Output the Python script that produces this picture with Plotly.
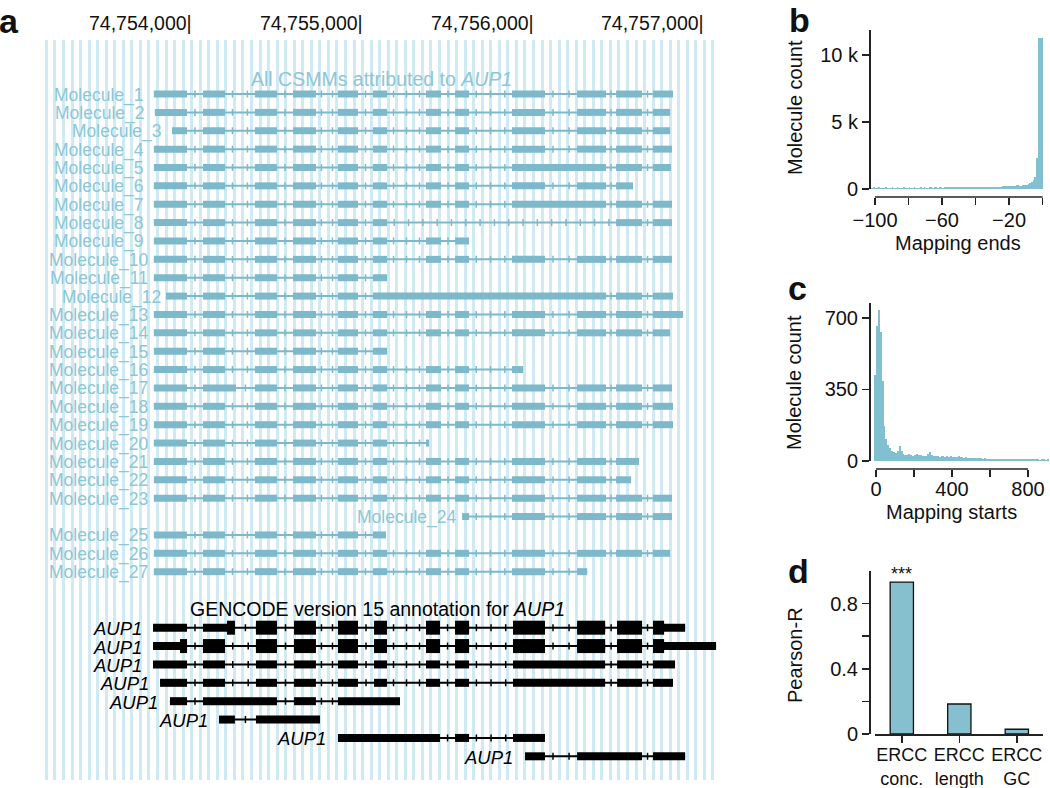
import numpy as np
import plotly.graph_objects as go

W, H = 1050, 788
FONT = "Liberation Sans, Arial, Helvetica, sans-serif"

# ---------------- Panel a data ----------------
coord_ticks = [74754000, 74755000, 74756000, 74757000]

exon_starts = [74753779, 74754066, 74754370, 74754593, 74754856, 74755061,
               74755371, 74755541, 74755874, 74756255, 74756483, 74756699]
exon_ends = [74753973, 74754195, 74754499, 74754727, 74754973, 74755143,
             74755459, 74755623, 74756067, 74756424, 74756635, 74756816]

ALL12 = [1, 2, 3, 4, 5, 6, 7, 8, 9, 10, 11, 12]
molecule_exons = [
    ALL12, ALL12, ALL12, ALL12,
    [1, 2, 3, 4, 5, 6, 7, 8, (9, 10), 11, 12],
    [1, 2, 3, 4, 5, 6, 7, 8, 9, 10, 11],
    [1, 2, 3, 4, 5, 6, 7, 8, (9, 10), 11, 12],
    [1, 2, 3, 4, 5, 6, 11, 12],
    [1, 2, 3, 4, 5, 6, 7, 8],
    ALL12,
    [1, 2, 3, 4, 5, 6],
    [1, 2, 3, 4, 5, (6, 10), 11, 12],
    ALL12, ALL12,
    [1, 2, 3, 4, 5, 6],
    [1, 2, 3, 4, 5, 6, 7, 8, 9],
    ALL12, ALL12, ALL12,
    [1, 2, 3, 4, 5, 6, 7],
    [1, 2, 3, 4, 5, 6, 7, 8, 9, 10, 11],
    [1, 2, 3, 4, 5, 6, 7, 8, 9, 10, 11],
    ALL12,
    [8, 9, 10, 11, 12],
    [1, 2, 3, 4, 5, 6],
    ALL12,
    [1, 2, 3, 4, 5, 6, 7, 8, 9, 10],
]
molecule_start = [74753779, 74753785, 74753885, 74753779, 74753779, 74753779,
                  74753779, 74753779, 74753779, 74753779, 74753779, 74753850,
                  74753779, 74753779, 74753779, 74753779, 74753779, 74753779,
                  74753779, 74753779, 74753779, 74753779, 74753779, 74755582,
                  74753779, 74753779, 74753779]
molecule_end = [74756816, 74756799, 74756799, 74756810, 74756804, 74756582,
                74756810, 74756810, 74755623, 74756810, 74755143, 74756816,
                74756875, 74756799, 74755143, 74755939, 74756810, 74756816,
                74756816, 74755389, 74756617, 74756571, 74756810, 74756810,
                74755137, 74756799, 74756314]
molecule_exon_end_override = {17: {2: 74754259}}

gencode_exons = [
    [(74753774, 74753973), (74754066, 74754253), (74754376, 74754499), (74754599, 74754727),
     (74754856, 74754973), (74755067, 74755143), (74755371, 74755453), (74755541, 74755623),
     (74755880, 74756067), (74756255, 74756419), (74756489, 74756635), (74756699, 74756887)],
    [(74753774, 74753973), (74754066, 74754195), (74754376, 74754499), (74754599, 74754727),
     (74754856, 74754973), (74755067, 74755143), (74755371, 74755453), (74755541, 74755623),
     (74755880, 74756067), (74756255, 74756419), (74756489, 74756635), (74756699, 74757068)],
    [(74753774, 74753973), (74754066, 74754195), (74754376, 74754499), (74754599, 74754727),
     (74754856, 74754973), (74755067, 74755143), (74755371, 74755453), (74755541, 74755623),
     (74755880, 74756419), (74756489, 74756635), (74756699, 74756828)],
    [(74753815, 74753973), (74754066, 74754195), (74754376, 74754499), (74754599, 74754727),
     (74754856, 74754973), (74755067, 74755143), (74755371, 74755453), (74755541, 74755623),
     (74755880, 74756419), (74756489, 74756635), (74756699, 74756816)],
    [(74753873, 74753973), (74754066, 74754499), (74754599, 74754727), (74754856, 74755219)],
    [(74754160, 74754253), (74754376, 74754751)],
    [(74754856, 74755453), (74755541, 74755623), (74755880, 74756067)],
    [(74755950, 74756067), (74756255, 74756635), (74756699, 74756887)],
]
gencode_cds = [(74754207, 74756764), (74753932, 74756764), None, None, None, None, None, None]
gencode_name = "AUP1"

# ---------------- Panel b data ----------------
ends_centers = np.arange(-103.5, 0, 1.0)
ends_counts = [
    95, 110, 100, 120, 105, 95, 115, 100, 110, 105,
    120, 100, 95, 110, 115, 100, 105, 120, 110, 100,
    105, 115, 100, 110, 120, 105, 100, 115, 110, 105,
    110, 120, 105, 115, 100, 110, 125, 115, 105, 120,
    115, 110, 125, 120, 110, 115, 130, 120, 115, 125,
    120, 130, 125, 115, 130, 135, 125, 130, 140, 130,
    135, 140, 130, 145, 140, 150, 145, 140, 155, 150,
    155, 160, 150, 165, 170, 160, 175, 180, 170, 185,
    190, 200, 195, 210, 220, 230, 240, 260, 290, 270,
    250, 260, 280, 300, 330, 360, 420, 520, 650, 900,
    2300, 11300, 11300, 11300,
]
ends_ticks = [-100, -80, -60, -40, -20, 0]
ends_ticktext = ["\u2212100", "", "\u221260", "", "\u221220", ""]
ends_yticks = [0, 5000, 10000]
ends_yticktext = ["0", "5 k", "10 k"]

# ---------------- Panel c data ----------------
starts_centers = np.arange(-5, 910, 10.0)
starts_counts = [
    420, 660, 740, 630, 390, 170, 110, 80, 62, 48,
    42, 38, 50, 72, 48, 34, 30, 28, 33, 30,
    26, 29, 36, 31, 27, 25, 24, 26, 32, 46,
    28, 24, 23, 25, 22, 24, 23, 21, 24, 22,
    23, 21, 22, 20, 24, 19, 18, 17, 18, 16,
    17, 15, 16, 14, 15, 13, 14, 12, 13, 12,
    10, 11, 10, 9, 11, 10, 9, 10, 9, 10,
    9, 10, 9, 9, 10, 8, 9, 9, 8, 9,
    8, 9, 8, 8, 9, 8, 8, 7, 8, 8,
    7, 8,
]
starts_ticks = [0, 200, 400, 600, 800]
starts_ticktext = ["0", "", "400", "", "800"]
starts_yticks = [0, 350, 700]

# ---------------- Panel d data ----------------
d_categories = ["ERCC conc.", "ERCC length", "ERCC GC"]
d_ticktext = ["ERCC<br>conc.", "ERCC<br>length", "ERCC<br>GC"]
d_values = [0.932, 0.184, 0.029]
d_sig = ["***", "", ""]
d_yticks = [0, 0.2, 0.4, 0.6, 0.8]
d_yticktext = ["0", "", "0.4", "", "0.8"]

# ---------------- styles ----------------
MOL_COLOR = "#7db9ca"
MOL_TEXT = "#8cc7d5"
STRIPE = "#d0eaf3"
HIST_COLOR = "#80c0d0"
AXIS = "#222222"


def px_x(p):
    return p / W


def px_y(p):
    return 1 - p / H


def intron_ticks(blocks, step=85.0):
    xs = []
    for (a_s, a_e), (b_s, b_e) in zip(blocks[:-1], blocks[1:]):
        L = b_s - a_e
        if L < 40:
            continue
        n = max(1, int(round(L / step)))
        for k in range(n):
            xs.append(a_e + L * (k + 0.5) / n)
    return xs


fig = go.Figure()

# ---- molecules ----
intr_x, intr_y, ex_x, ex_y, tk_x, tk_y = [], [], [], [], [], []
annotations = []
for idx, spec in enumerate(molecule_exons):
    row = idx + 1
    blocks = []
    ov = molecule_exon_end_override.get(row, {})
    for item in spec:
        i, j = (item if isinstance(item, tuple) else (item, item))
        s, e = exon_starts[i - 1], exon_ends[j - 1]
        if j in ov:
            e = ov[j]
        blocks.append([s, e])
    blocks[0][0] = molecule_start[idx]
    blocks[-1][1] = molecule_end[idx]
    intr_x += [blocks[0][0], blocks[-1][1], None]
    intr_y += [row, row, None]
    for s, e in blocks:
        ex_x += [s, e, None]
        ex_y += [row, row, None]
    t = intron_ticks(blocks)
    tk_x += t
    tk_y += [row] * len(t)
    annotations.append(dict(x=molecule_start[idx], y=row, xref="x", yref="y",
                            text=f"Molecule_{row}", showarrow=False, xanchor="center",
                            yanchor="middle", xshift=-55, yshift=-1,
                            font=dict(family=FONT, size=17.5, color=MOL_TEXT)))

fig.add_trace(go.Scatter(x=intr_x, y=intr_y, mode="lines", line=dict(color=MOL_COLOR, width=2),
                         hoverinfo="skip", xaxis="x", yaxis="y"))
fig.add_trace(go.Scatter(x=ex_x, y=ex_y, mode="lines", line=dict(color=MOL_COLOR, width=7),
                         hoverinfo="skip", xaxis="x", yaxis="y"))
fig.add_trace(go.Scatter(x=tk_x, y=tk_y, mode="markers",
                         marker=dict(symbol="line-ns", size=5, line=dict(color=MOL_COLOR, width=1.5)),
                         hoverinfo="skip", xaxis="x", yaxis="y"))

# ---- GENCODE ----
g_row0 = 30.05
gi_x, gi_y, gu_x, gu_y, gc_x, gc_y, gt_x, gt_y = [], [], [], [], [], [], [], []
for k, exons in enumerate(gencode_exons):
    row = g_row0 + k
    gi_x += [exons[0][0], exons[-1][1], None]
    gi_y += [row, row, None]
    for s, e in exons:
        gu_x += [s, e, None]
        gu_y += [row, row, None]
    cds = gencode_cds[k]
    if cds is not None:
        for s, e in exons:
            cs, ce = max(s, cds[0]), min(e, cds[1])
            if ce > cs:
                gc_x += [cs, ce, None]
                gc_y += [row, row, None]
    t = intron_ticks(exons)
    gt_x += t
    gt_y += [row] * len(t)
    annotations.append(dict(x=exons[0][0], y=row, xref="x", yref="y",
                            text=f"<i>{gencode_name}</i>", showarrow=False, xanchor="center",
                            yanchor="middle", xshift=-36, yshift=-1,
                            font=dict(family=FONT, size=18.5, color="#000000")))

fig.add_trace(go.Scatter(x=gi_x, y=gi_y, mode="lines", line=dict(color="black", width=2),
                         hoverinfo="skip", xaxis="x", yaxis="y"))
fig.add_trace(go.Scatter(x=gu_x, y=gu_y, mode="lines", line=dict(color="black", width=8),
                         hoverinfo="skip", xaxis="x", yaxis="y"))
fig.add_trace(go.Scatter(x=gc_x, y=gc_y, mode="lines", line=dict(color="black", width=14),
                         hoverinfo="skip", xaxis="x", yaxis="y"))
fig.add_trace(go.Scatter(x=gt_x, y=gt_y, mode="markers",
                         marker=dict(symbol="line-ns", size=5, line=dict(color="black", width=1.5)),
                         hoverinfo="skip", xaxis="x", yaxis="y"))

for v in coord_ticks:
    annotations.append(dict(x=v, y=px_y(23), xref="x", yref="paper", text=f"{v:,}|",
                            showarrow=False, xanchor="right", yanchor="middle", xshift=2,
                            font=dict(family=FONT, size=19.5, color="#111111")))

annotations.append(dict(x=px_x(381.5), y=px_y(79), xref="paper", yref="paper",
                        text="All CSMMs attributed to <i>AUP1</i>", showarrow=False,
                        xanchor="center", yanchor="middle",
                        font=dict(family=FONT, size=19.5, color=MOL_TEXT)))
annotations.append(dict(x=px_x(377), y=px_y(609), xref="paper", yref="paper",
                        text="GENCODE version 15 annotation for <i>AUP1</i>", showarrow=False,
                        xanchor="center", yanchor="middle",
                        font=dict(family=FONT, size=19.5, color="#000000")))

# ---- panel b ----
fig.add_trace(go.Bar(x=ends_centers, y=ends_counts, width=1.0, marker=dict(color=HIST_COLOR, line=dict(width=0)),
                     hoverinfo="skip", xaxis="x2", yaxis="y2"))
# ---- panel c ----
fig.add_trace(go.Bar(x=starts_centers, y=starts_counts, width=10.0, marker=dict(color=HIST_COLOR, line=dict(width=0)),
                     hoverinfo="skip", xaxis="x3", yaxis="y3"))
# ---- panel d ----
fig.add_trace(go.Bar(x=d_categories, y=d_values, width=0.405,
                     marker=dict(color="#86c0cf", line=dict(color="#111111", width=1.3)),
                     hoverinfo="skip", xaxis="x4", yaxis="y4"))
for c, v, s in zip(d_categories, d_values, d_sig):
    if s:
        annotations.append(dict(x=c, y=v, xref="x4", yref="y4", text=s, showarrow=False,
                                xanchor="center", yanchor="middle", yshift=8,
                                font=dict(family=FONT, size=18, color="#111111")))

# axis lines for offset x axes spanning tick range
shapes = [
    dict(type="line", xref="x2", yref="paper", x0=min(ends_ticks), x1=max(ends_ticks),
         y0=px_y(197), y1=px_y(197), line=dict(color=AXIS, width=1.5)),
    dict(type="line", xref="x3", yref="paper", x0=min(starts_ticks), x1=max(starts_ticks),
         y0=px_y(469), y1=px_y(469), line=dict(color=AXIS, width=1.5)),
]

# panel letters and axis titles
for txt, x, y in [("a", 9, 21), ("b", 799, 20), ("c", 797, 288), ("d", 798, 571)]:
    annotations.append(dict(x=px_x(x), y=px_y(y), xref="paper", yref="paper", text=f"<b>{txt}</b>",
                            showarrow=False, xanchor="center", yanchor="middle",
                            font=dict(family=FONT, size=34, color="#111111")))
for txt, x, y, ang in [("Molecule count", 795, 108, -90), ("Mapping ends", 958, 243, 0),
                       ("Molecule count", 794, 383, -90), ("Mapping starts", 951, 512, 0),
                       ("Pearson-R", 795, 655, -90)]:
    annotations.append(dict(x=px_x(x), y=px_y(y), xref="paper", yref="paper", text=txt,
                            textangle=ang, showarrow=False, xanchor="center", yanchor="middle",
                            font=dict(family=FONT, size=20, color="#111111")))

tickfont = dict(family=FONT, size=20, color="#111111")
common_y = dict(showline=True, linecolor=AXIS, linewidth=1.5, ticks="outside", ticklen=7,
                tickwidth=1.5, tickcolor=AXIS, showgrid=False, zeroline=False, tickfont=tickfont,
                anchor="free", position=px_x(869), automargin=False)
common_x = dict(ticks="outside", ticklen=7, tickwidth=1.5, tickcolor=AXIS, showgrid=False,
                zeroline=False, tickangle=0, automargin=False)

fig.update_layout(
    width=W, height=H, autosize=False,
    margin=dict(l=0, r=0, t=0, b=0, pad=0, autoexpand=False),
    paper_bgcolor="white", plot_bgcolor="white",
    showlegend=False, bargap=0, hovermode=False,
    font=dict(family=FONT),
    xaxis=dict(domain=[px_x(38), px_x(720)], range=[74753101, 74757091], showgrid=True,
               gridcolor=STRIPE, gridwidth=3, dtick=50, tick0=coord_ticks[0],
               showticklabels=False, zeroline=False, showline=False, ticks="", automargin=False),
    yaxis=dict(domain=[px_y(780), px_y(40)], range=[38.34, -1.94], showgrid=False,
               showticklabels=False, zeroline=False, showline=False, ticks="", automargin=False),
    xaxis2=dict(domain=[px_x(869), px_x(1045)], range=[-103.58, 1.43], anchor="free",
                position=px_y(197), showline=False, tickvals=ends_ticks, ticktext=ends_ticktext,
                ticklabelstandoff=-2, tickfont=tickfont, **common_x),
    yaxis2=dict(domain=[px_y(189), px_y(30)], range=[0, 11870], tickvals=ends_yticks,
                ticktext=ends_yticktext, **common_y),
    xaxis3=dict(domain=[px_x(869), px_x(1049)], range=[-36.8, 910.5], anchor="free",
                position=px_y(469), showline=False, tickvals=starts_ticks, ticktext=starts_ticktext,
                ticklabelstandoff=-5, tickfont=tickfont, **common_x),
    yaxis3=dict(domain=[px_y(461), px_y(303)], range=[0, 773], tickvals=starts_yticks,
                ticktext=[str(v) for v in starts_yticks], **common_y),
    xaxis4=dict(domain=[px_x(875), px_x(1043)], range=[-0.466, 2.455], anchor="y4",
                showline=True, linecolor=AXIS, linewidth=1.5, type="category",
                tickvals=d_categories, ticktext=d_ticktext, ticklabelstandoff=-3,
                tickfont=dict(family=FONT, size=18, color="#111111"), **common_x),
    yaxis4=dict(domain=[px_y(734), px_y(571)], range=[0, 1.0], tickvals=d_yticks,
                ticktext=d_yticktext, **common_y),
    annotations=annotations,
    shapes=shapes,
)

fig.write_html("out.html", config={"displayModeBar": False, "staticPlot": True},
               post_script="document.body.style.margin='0px';")
